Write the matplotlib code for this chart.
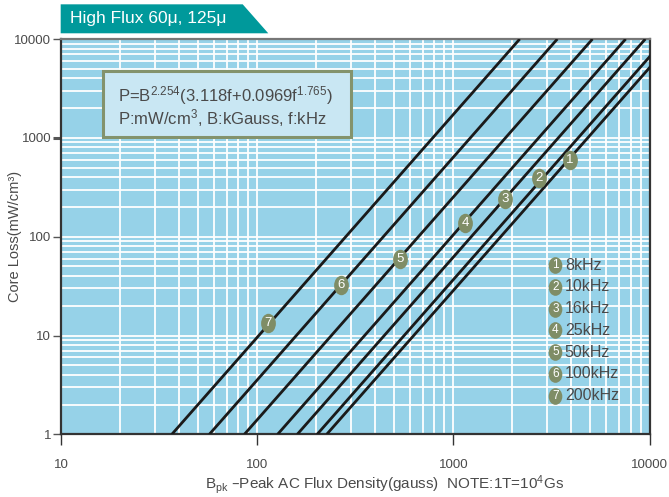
import matplotlib
matplotlib.use("Agg")
import matplotlib.pyplot as plt
from matplotlib.patches import Polygon, Rectangle
from matplotlib.path import Path
from matplotlib.transforms import Affine2D
from matplotlib.ticker import LogLocator, NullFormatter, FixedLocator, FixedFormatter

FONT = ['Liberation Sans', 'DejaVu Sans']
plt.rcParams['font.family'] = FONT
plt.rcParams['mathtext.default'] = 'regular'

# ---- data ----
label_nums = ['1', '2', '3', '4', '5', '6', '7']
freq_labels = ['8kHz', '10kHz', '16kHz', '25kHz', '50kHz', '100kHz', '200kHz']
b_at_p_low = [226, 202, 160, 127, 86, 57, 36.7]          # gauss where P = 1
b_at_p_high = [13450, 12020, 9520, 7560, 5120, 3390, 2180]  # gauss where P = 10000
p_low = 1
p_high = 10000
marker_b = [3940, 2740, 1840, 1150, 536, 268, 114]
marker_p = [597, 393, 241, 138, 59.5, 32.5, 13.4]
x_ticks = [10, 100, 1000, 10000]
x_ticklabels = ['10', '100', '1000', '10000']
y_ticks = [1, 10, 100, 1000, 10000]
y_ticklabels = ['1', '10', '100', '1000', '10000']

BG = '#96d2e8'
OLIVE = '#7f8d66'
TEAL = '#00999b'
TXT = '#4a4a4a'

fig = plt.figure(figsize=(6.69, 4.97), dpi=100)
ax = fig.add_axes([0.0912, 0.126, 0.8797, 0.7955])
ax.set_facecolor(BG)
ax.set_xscale('log')
ax.set_yscale('log')
ax.set_xlim(10, 10000)
ax.set_ylim(1, 10000)

ax.xaxis.set_major_locator(FixedLocator(x_ticks))
ax.xaxis.set_major_formatter(FixedFormatter(x_ticklabels))
ax.yaxis.set_major_locator(FixedLocator(y_ticks))
ax.yaxis.set_major_formatter(FixedFormatter(y_ticklabels))
for axis in (ax.xaxis, ax.yaxis):
    axis.set_minor_locator(LogLocator(base=10, subs=range(2, 10), numticks=20))
    axis.set_minor_formatter(NullFormatter())

ax.grid(True, which='both', color='white', linewidth=1.3)
ax.set_axisbelow(True)
ax.tick_params(which='minor', length=0)
ax.tick_params(axis='x', which='major', direction='out', length=8, width=1.0,
               color='#333333', labelsize=9.5, labelcolor=TXT, pad=10)
ax.tick_params(axis='y', which='major', direction='out', length=6, width=1.0,
               color='#555555', labelsize=9.5, labelcolor=TXT, pad=1)
# thicker 1000 tick
for t, v in zip(ax.yaxis.get_major_ticks(), y_ticks):
    if v == 1000:
        t.tick1line.set_markeredgewidth(2.2)
        t.tick1line.set_color('#222222')

for s in ax.spines.values():
    s.set_color('#333333')
    s.set_linewidth(1.6)
ax.spines['top'].set_color('#777777')

# ---- curves ----
for b0, b1 in zip(b_at_p_low, b_at_p_high):
    ax.plot([b0, b1], [p_low, p_high], color='#1a1a1a', linewidth=2.0,
            solid_capstyle='butt', zorder=3)

ell = Path.unit_circle().transformed(Affine2D().scale(0.76, 1.0))
for n, b, p in zip(label_nums, marker_b, marker_p):
    ax.plot([b], [p], marker=ell, markersize=14, color=OLIVE,
            markeredgewidth=0, zorder=4)
    ax.text(b, p, n, color='white', fontsize=9.5, ha='center', va='center',
            zorder=5)

# ---- legend (manual) ----
ell2 = Path.unit_circle().transformed(Affine2D().scale(0.82, 1.0))
leg_y = [0.428, 0.373, 0.318, 0.263, 0.208, 0.153, 0.098]
for n, lab, yy in zip(label_nums, freq_labels, leg_y):
    ax.plot([0.840], [yy], transform=ax.transAxes, marker=ell2, markersize=12,
            color=OLIVE, markeredgewidth=0, zorder=4, clip_on=False)
    ax.text(0.840, yy, n, transform=ax.transAxes, color='white', fontsize=8.5,
            ha='center', va='center', zorder=5)
    ax.text(0.856, yy, lab, transform=ax.transAxes, color=TXT, fontsize=11.5,
            ha='left', va='center', zorder=5)

# ---- formula box ----
ax.add_patch(Rectangle((0.0709, 0.7513), 0.4214, 0.1685, transform=ax.transAxes,
                       facecolor='#c9e7f3', edgecolor='#83936c', linewidth=2.2,
                       zorder=5))
ax.text(0.0969, 0.858, r'P=B$^{2.254}$(3.118f+0.0969f$^{1.765}$)',
        transform=ax.transAxes, fontsize=12, color=TXT, ha='left',
        va='center', zorder=6)
ax.text(0.0969, 0.800, r'P:mW/cm$^{3}$, B:kGauss, f:kHz',
        transform=ax.transAxes, fontsize=12, color=TXT, ha='left',
        va='center', zorder=6)

# ---- title banner ----
fig.patches.append(Polygon([[0.0907, 0.9913], [0.3628, 0.9913], [0.401, 0.933],
                            [0.0907, 0.933]], closed=True, transform=fig.transFigure,
                           facecolor=TEAL, edgecolor='none'))
fig.text(0.1046, 0.963, 'High Flux 60\u03bc, 125\u03bc', color='white',
         fontsize=12.5, ha='left', va='center')

# ---- axis labels ----
fig.text(0.306, 0.026, 'B$_{pk}$ \u2013Peak AC Flux Density(gauss)  NOTE:1T=10$^{4}$Gs',
         color=TXT, fontsize=11, ha='left', va='center')
fig.text(0.022, 0.525, 'Core Loss(mW/cm\u00b3)', color=TXT, fontsize=10.5,
         rotation=90, ha='center', va='center')

fig.savefig('out.png', dpi=100)
